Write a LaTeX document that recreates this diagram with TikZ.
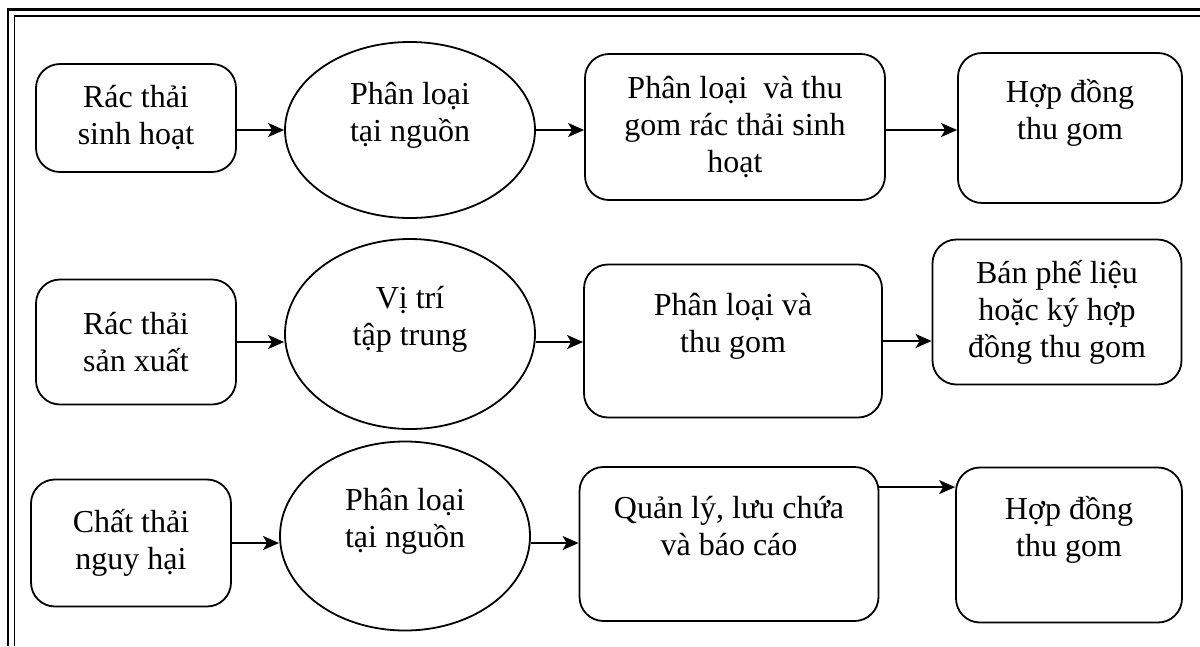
\documentclass[tikz,border=0pt]{standalone}
\usepackage{fontspec}
\setmainfont{Liberation Serif}
\usetikzlibrary{arrows.meta,shapes.geometric}

\begin{document}
\begin{tikzpicture}[x=1pt, y=-1pt,
  box/.style={draw, line width=1.8pt, rounded corners=24pt, align=center,
    inner sep=0pt, font=\fontsize{32}{37}\selectfont},
  oval/.style={draw, ellipse, line width=1.8pt, align=center,
    inner sep=0pt, font=\fontsize{32}{37}\selectfont},
  arr/.style={line width=1.8pt, -{Stealth[length=16pt, width=14pt, inset=4pt]}}]
  \useasboundingbox (0,0) rectangle (1200,646);

  % Double frame (top and left)
  \draw[line width=2.5pt] (8,646) -- (8,9.5) -- (1200,9.5);
  \draw[line width=1.6pt] (14.5,646) -- (14.5,16) -- (1200,16);

  % Row 1: household waste
  \node[box, minimum width=200pt, minimum height=108pt] (b11) at (136,118) {Rác thải\\sinh hoạt};
  \node[oval, minimum width=250pt, minimum height=176pt] (e12) at (410,130) {Phân loại\\tại nguồn\\~};
  \node[box, minimum width=300pt, minimum height=146pt] (b13) at (735,127) {Phân loại\ \ và thu\\gom rác thải sinh\\hoạt};
  \node[box, minimum width=224pt, minimum height=150pt] (b14) at (1070,128) {Hợp đồng\\thu gom\\~};

  % Row 2: production waste
  \node[box, minimum width=200pt, minimum height=125pt] (b21) at (136,342) {Rác thải\\sản xuất};
  \node[oval, minimum width=250pt, minimum height=190pt] (e22) at (410,334) {Vị trí\\tập trung\\~};
  \node[box, minimum width=298pt, minimum height=153pt] (b23) at (733,341) {Phân loại và\\thu gom\\~};
  \node[box, minimum width=249pt, minimum height=145pt] (b24) at (1057,312) {Bán phế liệu\\hoặc ký hợp\\đồng thu gom};

  % Row 3: hazardous waste
  \node[box, minimum width=200pt, minimum height=127pt] (b31) at (131,543) {Chất thải\\nguy hại};
  \node[oval, minimum width=250pt, minimum height=189pt] (e32) at (405,536) {Phân loại\\tại nguồn\\~};
  \node[box, minimum width=299pt, minimum height=154pt] (b33) at (729,544) {Quản lý, lưu chứa\\và báo cáo\\~};
  \node[box, minimum width=226pt, minimum height=155pt] (b34) at (1069,545) {Hợp đồng\\thu gom\\~};

  % Arrows
  \draw[arr] (b11.east |- e12) -- (e12.west);
  \draw[arr] (e12.east) -- (e12.east -| b13.west);
  \draw[arr] (b13.east |- e12) -- (b14.west |- e12);
  \draw[arr] (b21.east) -- (b21.east -| e22.west);
  \draw[arr] (e22.east |- b21) -- (b23.west |- b21);
  \draw[arr] (b23.east) -- (b23.east -| b24.west);
  \draw[arr] (b31.east) -- (b31.east -| e32.west);
  \draw[arr] (e32.east |- b31) -- (b33.west |- b31);
  \draw[arr] ([yshift=-21pt]b33.north east) -- ([yshift=-21pt]b33.north east -| b34.west);
\end{tikzpicture}
\end{document}
